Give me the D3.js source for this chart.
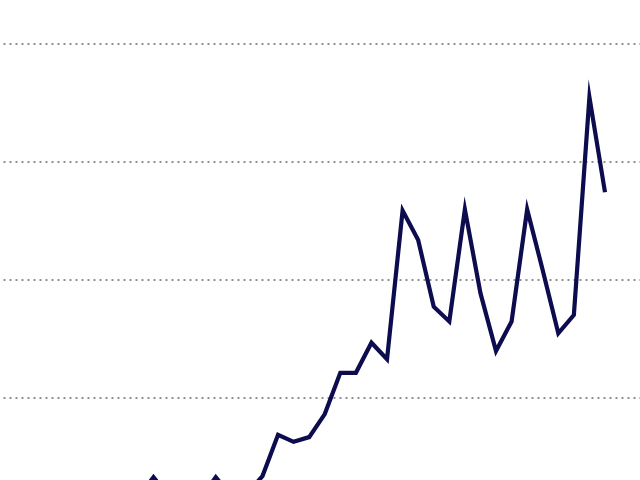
<!DOCTYPE html>
<html>
<head>
<meta charset="utf-8">
<script src="https://cdn.jsdelivr.net/npm/d3@7"></script>
<style>
html,body{margin:0;padding:0;background:#fff;overflow:hidden;}
svg{display:block;}
</style>
</head>
<body>
<svg id="chart" width="640" height="480"></svg>
<script>
// Period index (x) and series values (y); earlier periods fall below the visible frame
const periods = d3.range(1, 41);
const values = [
  2.6, 3.0, 2.4, 2.9, 3.1, 2.7, 3.2, 2.8, 3.0,
  2.9, 6.4, 3.1, 3.0, 2.8, 6.4, 3.2, 3.6, 6.6,
  13.6, 12.4, 13.2, 17.1, 24.1, 24.1, 29.2, 26.4,
  51.6, 46.6, 35.3, 32.8, 51.8, 37.6, 27.8, 32.8,
  51.8, 41.5, 30.8, 33.9, 70.8, 54.7
];
const gridTicks = [20, 40, 60, 80];

const svg = d3.select("#chart");
const W = 640, H = 480;

const x = d3.scaleLinear().domain([1, 40]).range([-2.2, 605]);
const y = d3.scaleLinear().domain([0, 100]).range([515, -75]);

svg.append("rect").attr("width", W).attr("height", H).attr("fill", "#fff");

// dotted horizontal gridlines
const yAxis = d3.axisLeft(y).tickValues(gridTicks).tickSize(-W).tickFormat("");
const g = svg.append("g").attr("transform", "translate(0,0.5)").call(yAxis);
g.select(".domain").remove();
g.selectAll(".tick line")
  .attr("stroke", "#222")
  .attr("stroke-width", 1)
  .attr("stroke-dasharray", "2,4")
  .attr("stroke-dashoffset", 2.5)
  .attr("x1", 0).attr("x2", W);

const data = periods.map((p, i) => ({p, v: values[i]}));

const line = d3.line().x(d => x(d.p)).y(d => y(d.v));
svg.append("path")
  .datum(data)
  .attr("fill", "none")
  .attr("stroke", "#0c0c4e")
  .attr("stroke-width", 4.2)
  .attr("stroke-linejoin", "miter")
  .attr("stroke-miterlimit", 10)
  .attr("d", line);
</script>
</body>
</html>
